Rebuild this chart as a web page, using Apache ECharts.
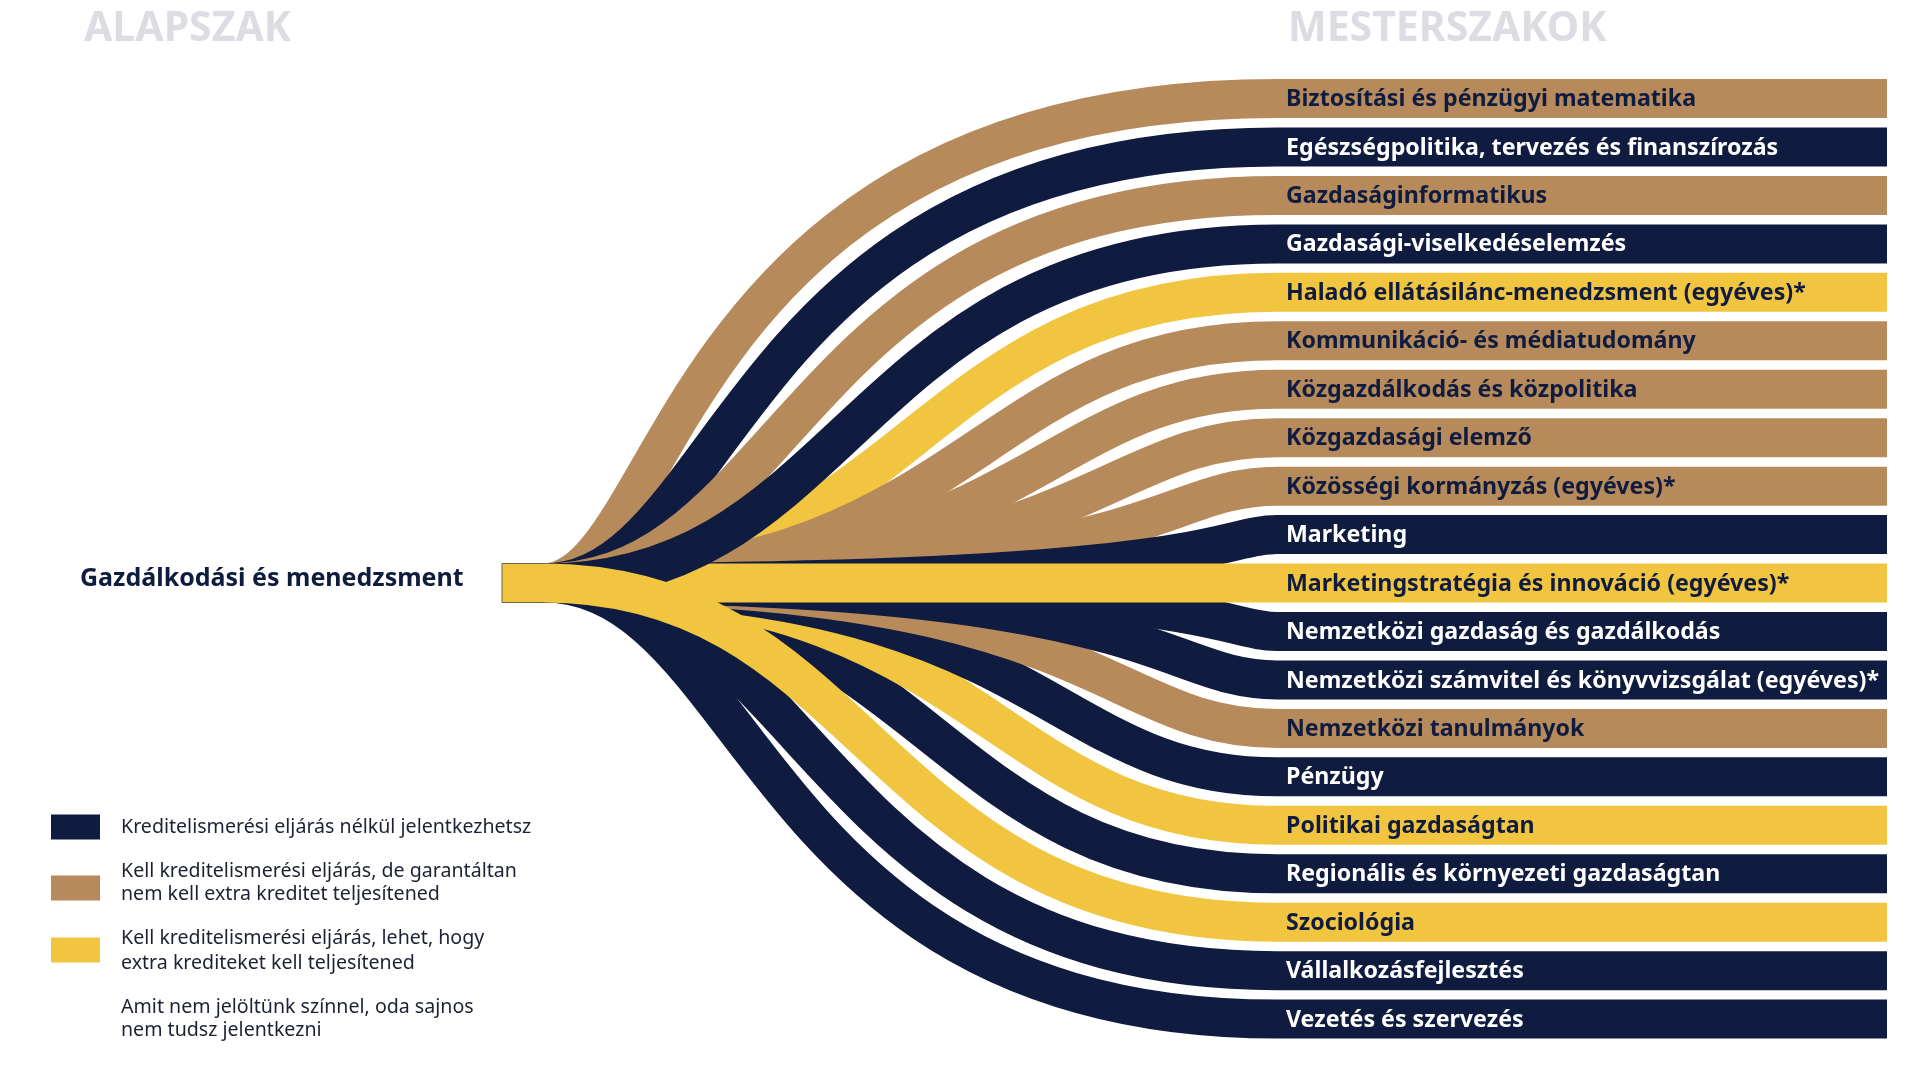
<!DOCTYPE html>
<html>
<head>
<meta charset="utf-8">
<script src="https://cdn.jsdelivr.net/npm/echarts@6/dist/echarts.min.js"></script>
<style>
html,body{margin:0;padding:0;background:#ffffff;}
#chart{width:1921px;height:1080px;}
</style>
</head>
<body>
<div id="chart"></div>
<script>
// ---------------- DATA ----------------
const sourceProgram = 'Gazdálkodási és menedzsment';
const columnTitles = ['ALAPSZAK', 'MESTERSZAKOK'];
const masterPrograms = [
  'Biztosítási és pénzügyi matematika',
  'Egészségpolitika, tervezés és finanszírozás',
  'Gazdaságinformatikus',
  'Gazdasági-viselkedéselemzés',
  'Haladó ellátásilánc-menedzsment (egyéves)*',
  'Kommunikáció- és médiatudomány',
  'Közgazdálkodás és közpolitika',
  'Közgazdasági elemző',
  'Közösségi kormányzás (egyéves)*',
  'Marketing',
  'Marketingstratégia és innováció (egyéves)*',
  'Nemzetközi gazdaság és gazdálkodás',
  'Nemzetközi számvitel és könyvvizsgálat (egyéves)*',
  'Nemzetközi tanulmányok',
  'Pénzügy',
  'Politikai gazdaságtan',
  'Regionális és környezeti gazdaságtan',
  'Szociológia',
  'Vállalkozásfejlesztés',
  'Vezetés és szervezés'
];
// 0 = no credit recognition needed, 1 = recognition, no extra credit, 2 = recognition, maybe extra credits
const admissionType = [1,0,1,0,2,1,1,1,1,0,2,0,0,1,0,2,0,2,0,0];
const legendLabels = [
  'Kreditelismerési eljárás nélkül jelentkezhetsz',
  'Kell kreditelismerési eljárás, de garantáltan\nnem kell extra kreditet teljesítened',
  'Kell kreditelismerési eljárás, lehet, hogy\nextra krediteket kell teljesítened',
  'Amit nem jelöltünk színnel, oda sajnos\nnem tudsz jelentkezni'
];

// ---------------- STYLE / LAYOUT ----------------
const TYPE_COLORS = ['#0f1c3f', '#b68a5b', '#f2c540'];
const TYPE_TEXT = ['#ffffff', '#0f1c3f', '#0f1c3f'];
const TITLE_COLOR = '#dcdde2';
const FONT = '"Noto Sans", "Open Sans", sans-serif';
const NODE_X0 = 502, NODE_X1 = 543;
const BAR_X0 = 1277, BAR_X1 = 1887;
const BAND_H = 39;
const K_UP = 1.25, K_DOWN = 1.2;
const INNER = 6;

const n = masterPrograms.length;
const SRC_ROW = Math.floor(n / 2);

// drawing order: inner flows (farther first, nearer on top), the straight flow, then outer flows likewise
const rows = masterPrograms.map((p, i) => i).filter(i => i !== SRC_ROW);
const dist = i => Math.abs(i - SRC_ROW);
const byDistDesc = (a, b) => dist(b) - dist(a) || a - b;
const drawOrder = []
  .concat(rows.filter(i => dist(i) <= INNER).sort(byDistDesc))
  .concat([SRC_ROW])
  .concat(rows.filter(i => dist(i) > INNER).sort(byDistDesc));

const chart = echarts.init(document.getElementById('chart'), null, {renderer: 'canvas'});

const legendGraphics = [];
const legendRows = [[827], [871, 894], [938, 963], [1007, 1030]];
const swatchY = [827, 888, 950];
legendLabels.forEach((lab, i) => {
  if (i < 3) {
    legendGraphics.push({
      type: 'rect', left: 51, top: swatchY[i] - 12.5,
      shape: {width: 49, height: 25},
      style: {fill: TYPE_COLORS[i]}
    });
  }
  const lines = lab.split('\n');
  lines.forEach((ln, j) => {
    legendGraphics.push({
      type: 'text', x: 121, y: legendRows[i][j],
      style: {text: ln, fill: '#1d2233', font: '19.6px ' + FONT, verticalAlign: 'middle', align: 'left'}
    });
  });
});

const option = {
  animation: false,
  backgroundColor: '#ffffff',
  title: [
    {text: columnTitles[0], left: 79, top: 4,
      textStyle: {color: TITLE_COLOR, fontSize: 41, fontWeight: 'bold', fontFamily: FONT}},
    {text: columnTitles[1], left: 1283, top: 4,
      textStyle: {color: TITLE_COLOR, fontSize: 41, fontWeight: 'bold', fontFamily: FONT}}
  ],
  grid: {left: 0, right: 0, top: 74.3, height: 969},
  xAxis: {type: 'value', min: 0, max: 1921, show: false},
  yAxis: {type: 'category', data: masterPrograms, inverse: true, show: false},
  graphic: legendGraphics,
  series: [
    {
      type: 'custom', name: 'flows', silent: true, z: 2,
      coordinateSystem: 'cartesian2d',
      encode: {x: 1, y: 0},
      data: drawOrder.map(i => [i, admissionType[i]]),
      renderItem: function (params, api) {
        const row = api.value(0), type = api.value(1);
        const p0 = api.coord([NODE_X1, SRC_ROW]);
        const p1 = api.coord([BAR_X0, row]);
        const dy = p1[1] - p0[1];
        const k = dy < 0 ? K_UP : K_DOWN;
        const cx = Math.max(p0[0], p1[0] - k * Math.abs(dy));
        return {
          type: 'bezierCurve',
          shape: {x1: p0[0], y1: p0[1], cpx1: cx, cpy1: p0[1], cpx2: cx, cpy2: p1[1], x2: p1[0], y2: p1[1]},
          style: {stroke: TYPE_COLORS[type], lineWidth: BAND_H, fill: null, lineCap: 'butt'}
        };
      }
    },
    {
      type: 'custom', name: 'programs', silent: true, z: 3,
      coordinateSystem: 'cartesian2d',
      encode: {x: 1, y: 0},
      data: masterPrograms.map((p, i) => [i, admissionType[i]]),
      renderItem: function (params, api) {
        const row = api.value(0), type = api.value(1);
        const a = api.coord([BAR_X0, row]);
        const b = api.coord([BAR_X1, row]);
        return {
          type: 'group',
          children: [
            {type: 'rect', shape: {x: a[0], y: a[1] - BAND_H / 2, width: b[0] - a[0], height: BAND_H},
              style: {fill: TYPE_COLORS[type]}},
            {type: 'text', x: a[0] + 9, y: a[1] + 1,
              style: {text: masterPrograms[row], fill: TYPE_TEXT[type],
                font: 'bold 23.2px ' + FONT, verticalAlign: 'middle', align: 'left'}}
          ]
        };
      }
    },
    {
      type: 'custom', name: 'source', silent: true, z: 4,
      coordinateSystem: 'cartesian2d',
      encode: {x: 1, y: 0},
      data: [[SRC_ROW, admissionType[SRC_ROW]]],
      renderItem: function (params, api) {
        const a = api.coord([NODE_X0, api.value(0)]);
        const b = api.coord([NODE_X1, api.value(0)]);
        return {
          type: 'group',
          children: [
            {type: 'rect', shape: {x: a[0], y: a[1] - BAND_H / 2, width: b[0] - a[0] + 1, height: BAND_H},
              style: {fill: TYPE_COLORS[2], stroke: '#6b6352', lineWidth: 1}},
            {type: 'rect', shape: {x: b[0] - 1, y: a[1] - BAND_H / 2 + 0.5, width: 4, height: BAND_H - 1},
              style: {fill: TYPE_COLORS[2]}},
            {type: 'text', x: 80, y: a[1] - 4,
              style: {text: sourceProgram, fill: '#0f1c3f', font: 'bold 25px ' + FONT,
                verticalAlign: 'middle', align: 'left'}}
          ]
        };
      }
    }
  ]
};
chart.setOption(option);
</script>
</body>
</html>
